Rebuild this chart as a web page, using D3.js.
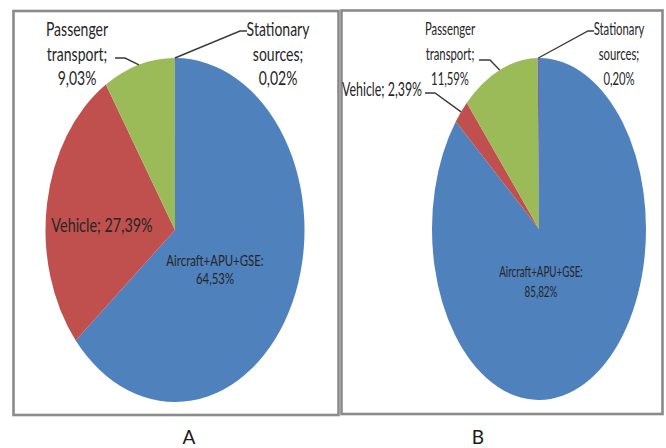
<!DOCTYPE html>
<html>
<head>
<meta charset="utf-8">
<script src="https://cdn.jsdelivr.net/npm/d3@7"></script>
<style>
  html, body { margin: 0; padding: 0; background: #fff; }
  svg { display: block; }
</style>
</head>
<body>
<svg id="chart" width="666" height="448"></svg>
<script>
// Share of emissions by source (%), two scenarios A and B
const categories = ["Aircraft+APU+GSE", "Vehicle", "Passenger transport", "Stationary sources"];
const sharesA = [64.53, 27.39, 9.03, 0.02];
const sharesB = [85.82, 2.39, 11.59, 0.20];
const panelNames = ["A", "B"];

const sliceColors = ["#4f81bd", "#c0504d", "#9bbb59", "#8064a2"];
const textColor = "#262626";
const fmt = v => d3.format(".2f")(v).replace(".", ",") + "%";

// Label text per category: "stack" puts each word of the name on its own line,
// "inline" keeps name and value on one line, "colon" puts "name:" above the value.
function labelLines(name, value, mode) {
  if (mode === "stack") {
    const words = name.split(" ");
    words[words.length - 1] += ";";
    return [...words, fmt(value)];
  }
  if (mode === "inline") return [name + "; " + fmt(value)];
  return [name + ":", fmt(value)];
}

const panels = [
  {
    name: panelNames[0], values: sharesA,
    frame: { x0: 13.5, y0: 11, x1: 338.5, y1: 415 },
    pie: { cx: 175, cy: 230, rx: 129.5, ry: 172 },
    sy: 1.33, letterX: 189,
    labels: [
      { mode: "colon",  x: 215, y: 266, size: 11.4, dy: 18 },
      { mode: "inline", x: 102, y: 232, size: 14.4 },
      { mode: "stack",  x: 77,  y: 36,  size: 14, dy: 24.5, leader: [[115, 58], [125, 58]] },
      { mode: "stack",  x: 278, y: 36,  size: 14, dy: 24.5, leader: [[247, 31], [240, 31]] }
    ]
  },
  {
    name: panelNames[1], values: sharesB,
    frame: { x0: 341.5, y0: 10.5, x1: 662.5, y1: 414 },
    pie: { cx: 539, cy: 229, rx: 107, ry: 171 },
    sy: 1.6, letterX: 478,
    labels: [
      { mode: "colon",  x: 541, y: 277, size: 9.8, dy: 20 },
      { mode: "inline", x: 382, y: 96,  size: 12.4, leader: [[425, 93], [435, 93]] },
      { mode: "stack",  x: 450, y: 35,  size: 11.3, dy: 25, leader: [[479, 60], [490, 60]] },
      { mode: "stack",  x: 619, y: 35,  size: 11.3, dy: 25, leader: [[594, 31], [588, 31]] }
    ]
  }
];

const svg = d3.select("#chart");

const pie = d3.pie().sort(null).value(d => d).startAngle(0).endAngle(2 * Math.PI);

panels.forEach(p => {
  const g = svg.append("g");

  // panel frame
  g.append("rect")
    .attr("x", p.frame.x0).attr("y", p.frame.y0)
    .attr("width", p.frame.x1 - p.frame.x0)
    .attr("height", p.frame.y1 - p.frame.y0)
    .attr("fill", "none")
    .attr("stroke", "#8a8a8a")
    .attr("stroke-width", 2.6);

  const arcs = pie(p.values);
  const { cx, cy, rx, ry } = p.pie;

  // elliptical pie: circular arcs of radius ry squeezed horizontally
  const arc = d3.arc().innerRadius(0).outerRadius(ry);
  g.append("g")
    .attr("transform", `translate(${cx},${cy}) scale(${rx / ry},1)`)
    .selectAll("path")
    .data(arcs)
    .join("path")
    .attr("d", arc)
    .attr("fill", (d, i) => sliceColors[i]);

  // point on the ellipse rim at the middle of a slice
  const rimPoint = d => {
    const a = (d.startAngle + d.endAngle) / 2;
    return [cx + rx * Math.sin(a), cy - ry * Math.cos(a)];
  };

  // leader lines
  p.labels.forEach((lab, i) => {
    if (!lab.leader) return;
    const pts = [...lab.leader, rimPoint(arcs[i])];
    g.append("path")
      .attr("d", d3.line()(pts))
      .attr("fill", "none")
      .attr("stroke", "#3a3a3a")
      .attr("stroke-width", 1.4);
  });

  // data labels
  p.labels.forEach((lab, i) => {
    const lines = labelLines(categories[i], p.values[i], lab.mode);
    lines.forEach((t, k) => {
      g.append("text")
        .attr("transform", `translate(${lab.x},${lab.y + k * (lab.dy || 0)}) scale(1,${p.sy})`)
        .attr("text-anchor", "middle")
        .attr("font-family", "Lato, 'Open Sans', sans-serif")
        .attr("font-size", lab.size)
        .attr("fill", textColor)
        .text(t);
    });
  });

  // panel letter below the frame
  svg.append("text")
    .attr("x", p.letterX).attr("y", 444)
    .attr("text-anchor", "middle")
    .attr("font-family", "Lato, 'Open Sans', sans-serif")
    .attr("font-size", 19)
    .attr("fill", "#1a1a1a")
    .text(p.name);
});
</script>
</body>
</html>
